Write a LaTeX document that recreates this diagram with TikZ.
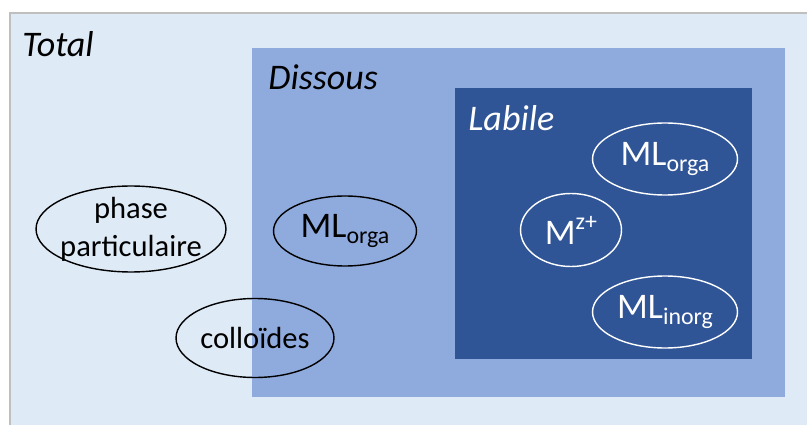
\documentclass[tikz,border=0pt]{standalone}
\usepackage{fontspec}
\setmainfont{Carlito}
\usepackage{xcolor}
\usetikzlibrary{shapes}
\definecolor{totalbg}{HTML}{DEEBF7}
\definecolor{dissbg}{HTML}{8FAADC}
\definecolor{labbg}{HTML}{2F5597}
\definecolor{frame}{HTML}{BFBFBF}
\newcommand{\lowtxt}[1]{\raisebox{-0.17em}{\fontsize{13.6}{15}\selectfont #1}}
\newcommand{\hightxt}[1]{\raisebox{0.42em}{\fontsize{13.6}{15}\selectfont #1}}
\tikzset{ell/.style={ellipse,draw,line width=0.8pt,inner sep=0pt},
         txt/.style={align=center,inner sep=0pt,font=\fontsize{17.4}{21.5}\selectfont},
         mltxt/.style={inner sep=0pt,font=\fontsize{20.5}{24}\selectfont},
         zone/.style={anchor=base west,inner sep=0pt,font=\fontsize{20.5}{24}\selectfont\itshape}}

\begin{document}
\begin{tikzpicture}[x=0.02cm,y=-0.02cm]
    \useasboundingbox (0,0) rectangle (807,425);
    \clip (0,0) rectangle (807,425);
    \fill[white] (0,0) rectangle (807,425);
    \filldraw[fill=totalbg,draw=frame,line width=1pt] (10,13) rectangle (830,440);
    \fill[dissbg] (252,48) rectangle (785,397);
    \fill[labbg] (455,88) rectangle (752,359);

    \node[zone] (total) at (22,57) {Total};
    \node[zone] (diss) at (268,90) {Dissous};
    \node[zone,white] (lab) at (468,131) {Labile};

    \node[ell,minimum width=3.8cm,minimum height=1.72cm,
          label={[txt]center:phase\\particulaire}] (part) at (131,229) {};
    \node[ell,minimum width=3.16cm,minimum height=1.58cm,
          label={[txt]center:colloïdes}] (coll) at (255,338) {};
    \node[ell,minimum width=2.86cm,minimum height=1.4cm,
          label={[mltxt]center:ML\lowtxt{orga}}] (mlo) at (345,231) {};

    \node[ell,draw=white,minimum width=2.9cm,minimum height=1.44cm,
          label={[mltxt,white]center:ML\lowtxt{orga}}] (lmlo) at (665,159) {};
    \node[ell,draw=white,minimum width=2.02cm,minimum height=1.46cm,
          label={[mltxt,white]center:M\hightxt{z+}}] (mz) at (571,230) {};
    \node[ell,draw=white,minimum width=2.9cm,minimum height=1.44cm,
          label={[mltxt,white]center:ML\lowtxt{inorg}}] (mli) at (665,312) {};
\end{tikzpicture}
\end{document}
